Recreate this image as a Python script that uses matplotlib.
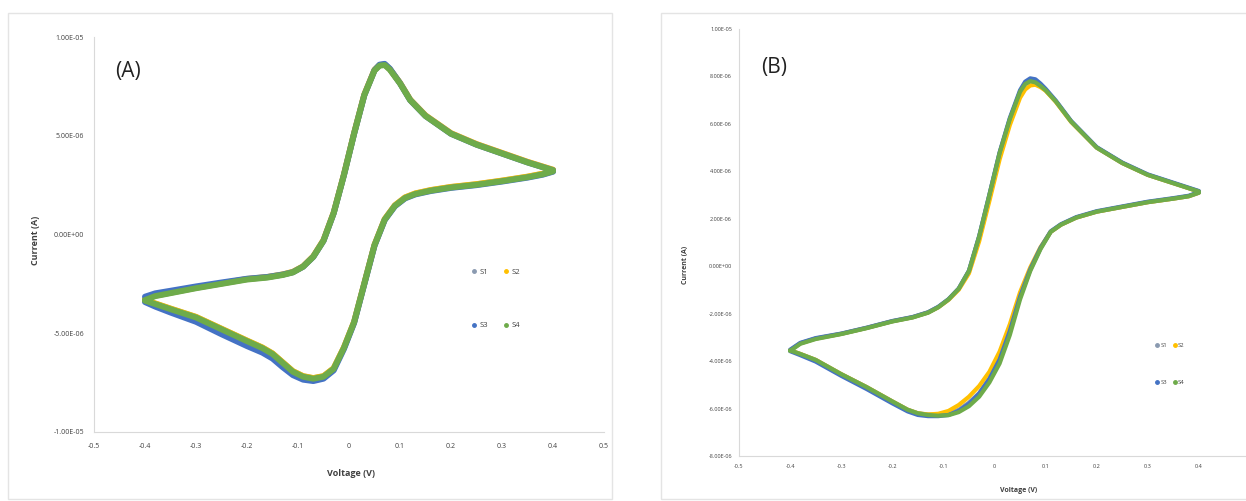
import matplotlib
matplotlib.use("Agg")
import matplotlib.pyplot as plt
from matplotlib.lines import Line2D
from matplotlib.patches import Rectangle

plt.rcParams['font.family'] = ['Open Sans', 'DejaVu Sans']

# ---------------- data (voltage in V, current in microampere) ----------------
V_fwd = [-0.40, -0.38, -0.35, -0.30, -0.25, -0.20, -0.16, -0.13, -0.11, -0.09, -0.07,
         -0.05, -0.03, -0.01, 0.01, 0.03, 0.05, 0.06, 0.07, 0.08, 0.09, 0.10, 0.12,
         0.15, 0.20, 0.25, 0.30, 0.35, 0.40]
V_rev = [0.40, 0.38, 0.35, 0.30, 0.25, 0.20, 0.16, 0.13, 0.11, 0.09, 0.07, 0.05, 0.03,
         0.01, -0.01, -0.03, -0.05, -0.07, -0.09, -0.11, -0.13, -0.15, -0.17, -0.20,
         -0.25, -0.30, -0.35, -0.38, -0.40]

# Panel A
A_S1_fwd = [-3.30, -3.10, -2.95, -2.70, -2.48, -2.26, -2.16, -2.03, -1.90, -1.62, -1.12,
            -0.30, 1.10, 3.02, 5.12, 7.07, 8.32, 8.57, 8.60, 8.37, 8.02, 7.67, 6.82,
            6.02, 5.12, 4.57, 4.12, 3.67, 3.27]
A_S1_rev = [3.22, 3.07, 2.92, 2.72, 2.54, 2.40, 2.24, 2.07, 1.87, 1.47, 0.77, -0.53, -2.48,
            -4.43, -5.73, -6.78, -7.18, -7.28, -7.18, -6.93, -6.48, -6.03, -5.73, -5.38,
            -4.78, -4.18, -3.76, -3.50, -3.33]
A_S2_fwd = [-3.28, -3.09, -2.94, -2.69, -2.47, -2.25, -2.15, -2.02, -1.89, -1.61, -1.10,
            -0.28, 1.12, 3.04, 5.14, 7.09, 8.34, 8.58, 8.61, 8.38, 8.03, 7.68, 6.83,
            6.03, 5.13, 4.58, 4.13, 3.68, 3.28]
A_S2_rev = [3.23, 3.08, 2.93, 2.73, 2.55, 2.41, 2.25, 2.08, 1.88, 1.48, 0.78, -0.52, -2.47,
            -4.42, -5.72, -6.77, -7.17, -7.27, -7.17, -6.92, -6.47, -6.02, -5.72, -5.37,
            -4.77, -4.17, -3.75, -3.49, -3.32]
A_S3_fwd = [-3.15, -2.98, -2.85, -2.63, -2.43, -2.24, -2.15, -2.03, -1.91, -1.63, -1.13,
            -0.32, 1.08, 3.00, 5.10, 7.05, 8.32, 8.60, 8.64, 8.40, 8.03, 7.66, 6.80,
            6.00, 5.10, 4.55, 4.10, 3.65, 3.25]
A_S3_rev = [3.18, 3.03, 2.88, 2.68, 2.50, 2.36, 2.20, 2.03, 1.83, 1.43, 0.73, -0.57, -2.52,
            -4.48, -5.80, -6.88, -7.30, -7.42, -7.35, -7.12, -6.72, -6.28, -5.98, -5.65,
            -5.05, -4.42, -3.95, -3.65, -3.42]
A_S4_fwd = [-3.32, -3.12, -2.97, -2.72, -2.50, -2.28, -2.18, -2.05, -1.92, -1.63, -1.13,
            -0.32, 1.08, 3.00, 5.10, 7.05, 8.30, 8.55, 8.58, 8.35, 8.00, 7.65, 6.80,
            6.00, 5.10, 4.55, 4.10, 3.65, 3.25]
A_S4_rev = [3.20, 3.05, 2.90, 2.70, 2.52, 2.38, 2.22, 2.05, 1.85, 1.45, 0.75, -0.55, -2.50,
            -4.45, -5.75, -6.80, -7.20, -7.30, -7.20, -6.95, -6.50, -6.05, -5.75, -5.40,
            -4.80, -4.20, -3.78, -3.52, -3.35]

# Panel B
B_S1_fwd = [-3.55, -3.25, -3.05, -2.85, -2.60, -2.32, -2.15, -1.95, -1.72, -1.40, -0.95,
            -0.20, 1.25, 3.00, 4.77, 6.20, 7.35, 7.68, 7.80, 7.75, 7.60, 7.42, 6.95,
            6.10, 5.00, 4.35, 3.85, 3.50, 3.15]
B_S1_rev = [3.10, 2.95, 2.85, 2.70, 2.50, 2.30, 2.05, 1.75, 1.45, 0.75, -0.15, -1.30, -2.75,
            -3.95, -4.75, -5.35, -5.75, -6.05, -6.20, -6.25, -6.25, -6.20, -6.05, -5.70,
            -5.10, -4.55, -3.95, -3.70, -3.55]
B_S2_fwd = [-3.55, -3.25, -3.05, -2.85, -2.60, -2.32, -2.15, -1.95, -1.73, -1.42, -0.99,
            -0.30, 1.05, 2.75, 4.50, 5.95, 7.10, 7.45, 7.62, 7.65, 7.55, 7.40, 6.93,
            6.08, 5.00, 4.35, 3.85, 3.50, 3.15]
B_S2_rev = [3.10, 2.95, 2.85, 2.70, 2.50, 2.30, 2.05, 1.75, 1.45, 0.80, -0.05, -1.10, -2.45,
            -3.60, -4.45, -5.05, -5.50, -5.85, -6.10, -6.22, -6.25, -6.20, -6.05, -5.70,
            -5.10, -4.55, -3.95, -3.70, -3.55]
B_S3_fwd = [-3.52, -3.23, -3.03, -2.84, -2.59, -2.31, -2.14, -1.94, -1.71, -1.39, -0.94,
            -0.19, 1.27, 3.02, 4.80, 6.25, 7.42, 7.78, 7.92, 7.88, 7.70, 7.48, 6.98,
            6.12, 5.02, 4.37, 3.87, 3.52, 3.17]
B_S3_rev = [3.12, 2.97, 2.87, 2.72, 2.52, 2.32, 2.07, 1.77, 1.47, 0.77, -0.13, -1.28, -2.73,
            -3.93, -4.75, -5.37, -5.80, -6.10, -6.27, -6.32, -6.32, -6.27, -6.12, -5.78,
            -5.18, -4.62, -4.02, -3.75, -3.58]
B_S4_fwd = [-3.57, -3.27, -3.07, -2.86, -2.61, -2.33, -2.16, -1.96, -1.73, -1.40, -0.95,
            -0.20, 1.25, 3.00, 4.77, 6.20, 7.35, 7.68, 7.80, 7.75, 7.60, 7.42, 6.95,
            6.10, 5.00, 4.35, 3.85, 3.50, 3.15]
B_S4_rev = [3.10, 2.95, 2.85, 2.70, 2.50, 2.30, 2.05, 1.75, 1.45, 0.72, -0.20, -1.40, -2.90,
            -4.10, -4.90, -5.50, -5.90, -6.15, -6.28, -6.30, -6.27, -6.20, -6.05, -5.70,
            -5.10, -4.55, -3.95, -3.70, -3.55]

series_names = ["S1", "S2", "S3", "S4"]
series_colors = ["#8A9AB0", "#FFC000", "#4472C4", "#6EAB4A"]

A_x_ticks = [-0.5, -0.4, -0.3, -0.2, -0.1, 0, 0.1, 0.2, 0.3, 0.4, 0.5]
A_x_labels = ["-0.5", "-0.4", "-0.3", "-0.2", "-0.1", "0", "0.1", "0.2", "0.3", "0.4", "0.5"]
A_y_ticks = [1e-05, 5e-06, 0, -5e-06, -1e-05]
A_y_labels = ["1.00E-05", "5.00E-06", "0.00E+00", "-5.00E-06", "-1.00E-05"]
B_y_ticks = [1e-05, 8e-06, 6e-06, 4e-06, 2e-06, 0, -2e-06, -4e-06, -6e-06, -8e-06]
B_y_labels = ["1.00E-05", "8.00E-06", "6.00E-06", "4.00E-06", "2.00E-06", "0.00E+00",
              "-2.00E-06", "-4.00E-06", "-6.00E-06", "-8.00E-06"]

# ---------------- figure ----------------
W, H = 1246, 501
fig = plt.figure(figsize=(W / 100, H / 100), dpi=100)
fig.patch.set_facecolor("white")

def fx(px):
    return px / W

def fy(py):
    return 1 - py / H

# chart-area borders
fig.patches.append(Rectangle((fx(8), fy(499)), fx(612) - fx(8), fy(13) - fy(499),
                             transform=fig.transFigure, fill=False, edgecolor="#E4E4E4", lw=1))
fig.patches.append(Rectangle((fx(661), fy(499)), fx(1260) - fx(661), fy(13) - fy(499),
                             transform=fig.transFigure, fill=False, edgecolor="#E4E4E4", lw=1))

axA = fig.add_axes([fx(94), fy(432), fx(604) - fx(94), fy(37) - fy(432)])
axB = fig.add_axes([fx(739), fy(456), fx(1250) - fx(739), fy(29) - fy(456)])

A_data = [(A_S1_fwd, A_S1_rev), (A_S2_fwd, A_S2_rev), (A_S3_fwd, A_S3_rev), (A_S4_fwd, A_S4_rev)]
B_data = [(B_S1_fwd, B_S1_rev), (B_S2_fwd, B_S2_rev), (B_S3_fwd, B_S3_rev), (B_S4_fwd, B_S4_rev)]

def draw(ax, data, lw):
    for (fwd, rev), c in zip(data, series_colors):
        xs = V_fwd + V_rev
        ys = [v * 1e-6 for v in fwd + rev]
        ax.plot(xs, ys, color=c, lw=lw, solid_capstyle="round", solid_joinstyle="round")

draw(axA, A_data, 4.3)
draw(axB, B_data, 3.0)

tick_color = "#404040"
for ax, yt, yl, ylim, fs in [
        (axA, A_y_ticks, A_y_labels, (-1e-05, 1e-05), 5.0),
        (axB, B_y_ticks, B_y_labels, (-8e-06, 1e-05), 4.0)]:
    ax.set_xlim(-0.5, 0.5)
    ax.set_ylim(*ylim)
    ax.set_xticks(A_x_ticks)
    ax.set_xticklabels(A_x_labels)
    ax.set_yticks(yt)
    ax.set_yticklabels(yl)
    ax.tick_params(axis="both", length=0, labelsize=fs, colors=tick_color)
    for s in ["top", "right"]:
        ax.spines[s].set_visible(False)
    for s in ["left", "bottom"]:
        ax.spines[s].set_color("#D9D9D9")
        ax.spines[s].set_linewidth(0.8)
    ax.set_facecolor("none")

axA.tick_params(axis="y", pad=7)
axA.tick_params(axis="x", pad=8)
axB.tick_params(axis="y", pad=5)
axB.tick_params(axis="x", pad=6)

# axis titles
fig.text(fx(35), fy(240), "Current (A)", rotation=90, ha="center", va="center",
         fontsize=6.5, fontweight="bold", color=tick_color)
fig.text(fx(351), fy(473), "Voltage (V)", ha="center", va="center",
         fontsize=6.5, fontweight="bold", color=tick_color)
fig.text(fx(685), fy(265), "Current (A)", rotation=90, ha="center", va="center",
         fontsize=5, fontweight="bold", color=tick_color)
fig.text(fx(1019), fy(490), "Voltage (V)", ha="center", va="center",
         fontsize=5, fontweight="bold", color=tick_color)

# panel letters
fig.text(fx(128), fy(71), "(A)", ha="center", va="center", fontsize=15, color="#222222")
fig.text(fx(774), fy(67), "(B)", ha="center", va="center", fontsize=15, color="#222222")

# legends (column-major fill: S1,S3 | S2,S4 -> rows S1 S2 / S3 S4)
handle_map = {n: Line2D([], [], ls="none", marker="o", ms=2.5, color=c, label=n)
              for n, c in zip(series_names, series_colors)}
leg_order = ["S1", "S3", "S2", "S4"]
handles = [handle_map[n] for n in leg_order]
axA.legend(handles=handles, ncol=2, frameon=False, loc="center",
           bbox_to_anchor=((496 - 94) / 510, 1 - (299 - 37) / 395),
           fontsize=5.5, handlelength=0.6, handletextpad=0.4,
           columnspacing=2.0, labelspacing=6.0, labelcolor=tick_color)
axB.legend(handles=handles, ncol=2, frameon=False, loc="center",
           bbox_to_anchor=((1170 - 739) / 511, 1 - (364 - 29) / 427),
           fontsize=4.2, handlelength=0.6, handletextpad=0.3,
           columnspacing=1.0, labelspacing=5.5, labelcolor=tick_color)

fig.savefig("out.png", dpi=100, facecolor="white")
